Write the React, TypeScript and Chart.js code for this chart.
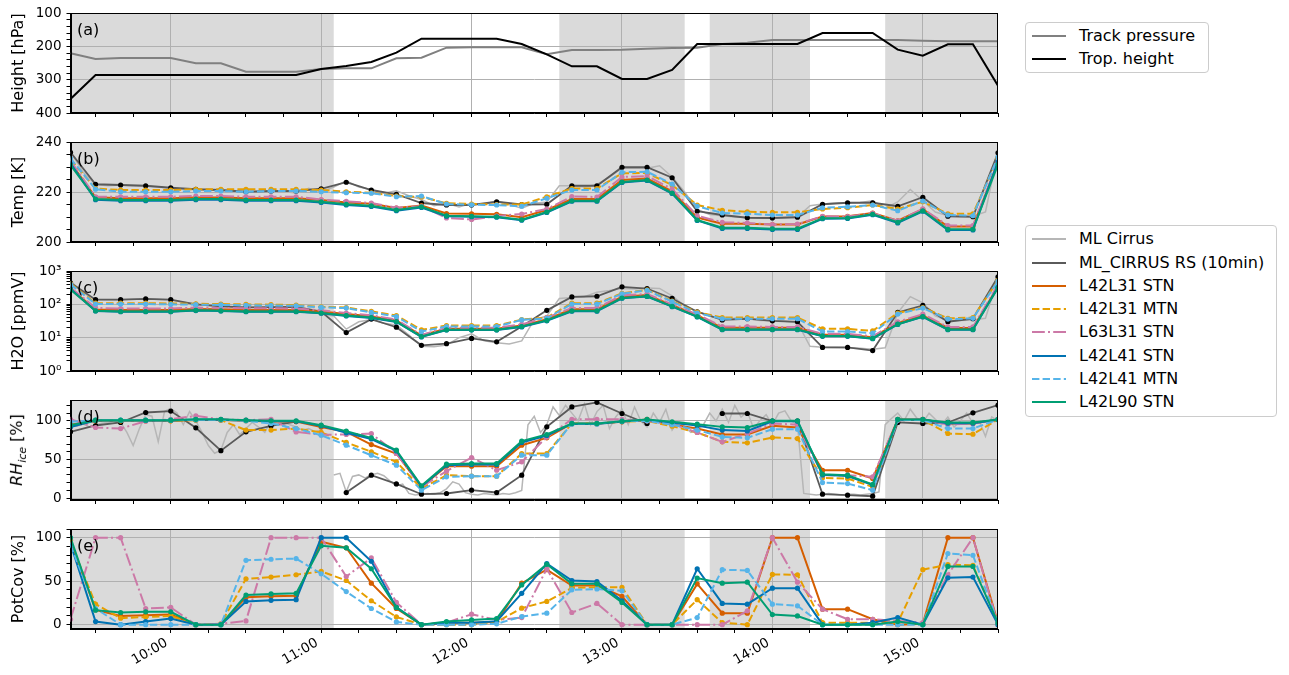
import React, { useEffect, useRef } from 'react';
import { Chart, registerables } from 'chart.js';

Chart.register(...registerables);
Chart.defaults.font.family = "'DejaVu Sans', 'Liberation Sans', sans-serif";
Chart.defaults.color = '#000';

// ---------------- data ----------------
const TIME_LABELS = [
  '09:20', '09:30', '09:40', '09:50', '10:00', '10:10', '10:20', '10:30', '10:40', '10:50',
  '11:00', '11:10', '11:20', '11:30', '11:40', '11:50', '12:00', '12:10', '12:20', '12:30',
  '12:40', '12:50', '13:00', '13:10', '13:20', '13:30', '13:40', '13:50', '14:00', '14:10',
  '14:20', '14:30', '14:40', '14:50', '15:00', '15:10', '15:20', '15:30',
];
const SHADE_START = ['09:20', '12:35', '13:35', '14:45'];
const SHADE_END = ['11:05', '13:25', '14:15', '15:30'];
const ML_STEP_TH_MIN = 5; // ML Cirrus sampling for temperature / H2O panels
const ML_STEP_RHI_MIN = 2.5; // ML Cirrus sampling for RHice panel

const PANEL_A_NAMES = ['Track pressure', 'Trop. height'];
const OBS_NAMES = ['ML Cirrus', 'ML_CIRRUS RS (10min)'];
const MODEL_NAMES = ['L42L31 STN', 'L42L31 MTN', 'L63L31 STN', 'L42L41 STN', 'L42L41 MTN', 'L42L90 STN'];
const PANEL_LETTERS = ['(a)', '(b)', '(c)', '(d)', '(e)'];

// (a) pressure [hPa]
const TRACK_PRESSURE = [221, 238, 235, 235, 235, 251, 251, 276, 276, 276, 268, 266, 266, 236, 234, 204, 203, 203, 203, 224, 211, 211, 210, 207, 205, 204, 193, 189, 181, 181, 181, 181, 181, 181, 183, 185, 185, 185];
const TROP_HEIGHT = [358, 286, 286, 286, 286, 286, 286, 286, 286, 286, 268, 259, 247, 219, 177, 177, 177, 177, 193, 224, 260, 260, 298, 298, 271, 193, 193, 193, 193, 193, 160, 160, 160, 210, 228, 194, 194, 318];

// (b) temperature [K]
const T_ML = [
  236, 228, 223, 222.5, 222.8, 222.5, 222.3, 222, 221.5, 221.2,
  221, 220.8, 220.6, 220.3, 220, 220.2, 220.4, 220.3, 219.5, 221.5,
  220, 222, 224.5, 222, 221, 219.5, 220.5, 218.5, 217, 214.5,
  215.5, 214, 215.5, 215, 216.5, 215, 213.5, 215.5, 216, 222.5,
  222.5, 222, 223, 226, 229.5, 229.5, 229.5, 230.5, 226, 220,
  213, 211, 210.5, 210, 209.8, 209.5, 209.6, 209.8, 210, 214.5,
  215.2, 215.5, 215.6, 215.8, 216.5, 213.5, 216, 221, 216.5, 212,
  210.5, 210.2, 210.3, 212, 236,
];
const T_RS = [235.9, 223.1, 222.8, 222.5, 221.7, 221.1, 220.8, 220.1, 220.4, 220.4, 221.3, 223.9, 220.8, 219.1, 215.6, 214.8, 214.8, 216.1, 215.0, 215.1, 222.5, 222.5, 229.9, 229.9, 225.7, 212.3, 210.8, 209.7, 209.6, 209.9, 215.1, 215.7, 215.7, 214.3, 217.9, 210.3, 210.1, 235.7];
const T_L42L31_STN = [231.8, 217.9, 217.5, 217.5, 217.5, 217.8, 217.8, 217.5, 217.5, 217.5, 216.8, 215.8, 215.3, 213.6, 214.6, 211.4, 211.3, 211.1, 209.9, 212.8, 217.2, 217.2, 224.8, 225.4, 220.3, 209.8, 207.3, 207.3, 207.0, 207.0, 210.2, 210.3, 211.6, 208.5, 213.1, 206.2, 206.2, 231.8];
const T_L42L31_MTN = [233.0, 221.4, 220.8, 220.8, 220.8, 221.1, 221.1, 221.1, 221.1, 221.1, 220.8, 220.1, 219.7, 218.4, 218.0, 215.5, 215.2, 215.0, 215.0, 218.1, 221.4, 221.4, 227.5, 227.6, 222.8, 214.8, 212.7, 212.1, 211.9, 211.9, 213.2, 213.7, 214.8, 213.2, 216.1, 211.3, 211.3, 233.5];
const T_L63L31_STN = [232.5, 218.1, 218.1, 218.1, 218.1, 218.4, 218.4, 218.1, 218.1, 218.1, 217.0, 216.3, 215.6, 213.7, 214.3, 209.6, 209.0, 210.4, 211.2, 213.2, 218.2, 218.0, 226.0, 226.4, 221.2, 210.5, 207.9, 207.6, 207.0, 207.2, 210.3, 210.2, 211.5, 208.5, 213.3, 206.6, 206.6, 232.0];
const T_L42L41_STN = [231.5, 216.9, 216.5, 216.5, 216.5, 216.9, 216.9, 216.5, 216.5, 216.5, 215.8, 214.8, 214.2, 212.5, 213.8, 210.3, 210.1, 209.9, 208.7, 211.8, 216.3, 216.3, 223.8, 224.6, 219.4, 208.6, 205.4, 205.4, 205.0, 205.0, 209.3, 209.4, 210.9, 207.6, 212.3, 204.8, 204.8, 232.3];
const T_L42L41_MTN = [233.5, 221.1, 220.1, 220.1, 220.1, 220.4, 220.4, 220.1, 220.4, 220.4, 220.1, 219.7, 219.5, 218.1, 218.4, 215.2, 214.9, 214.8, 214.3, 217.5, 220.8, 220.8, 227.9, 228.1, 223.2, 214.3, 211.6, 211.3, 210.8, 210.8, 213.7, 214.1, 214.8, 212.5, 216.4, 210.8, 210.5, 234.0];
const T_L42L90_STN = [230.8, 217.2, 216.8, 216.8, 216.8, 217.2, 217.2, 216.8, 216.8, 216.8, 216.1, 215.1, 214.5, 212.8, 214.1, 210.5, 210.3, 210.1, 208.9, 212.0, 216.5, 216.5, 224.0, 224.8, 219.6, 208.8, 205.7, 205.7, 205.3, 205.3, 209.5, 209.6, 211.1, 207.9, 212.5, 205.1, 205.1, 231.0];

// (c) H2O [ppmV]
const H2O_ML = [
  500, 220, 140, 138, 138, 142, 145, 140, 135, 115,
  100, 95, 88, 84, 81, 82, 82, 84, 80, 70,
  50, 45, 18, 30, 35, 27, 24, 12, 5.5, 5.3,
  6, 10, 13, 8, 7, 6.5, 8, 35, 45, 150,
  160, 170, 230, 260, 300, 290, 310, 300, 180, 90,
  60, 45, 36, 38, 37, 33, 32, 31, 28, 5.5,
  5.2, 5.1, 5, 4.8, 4.5, 5, 55, 170, 110, 45,
  32, 33, 34, 38, 620,
];
const H2O_RS = [443, 138, 138, 145, 138, 100, 87, 81, 82, 84, 61, 14.2, 36, 20.6, 5.9, 6.6, 9.5, 7.5, 21.6, 66, 167, 175, 335, 298, 150, 60, 34, 37, 32, 30, 5.1, 5.1, 4.1, 57, 93, 30, 37, 670];
const H2O_L42L31_STN = [300, 70, 68, 68, 68, 73, 71, 68, 68, 68, 61, 51, 44, 33, 11.8, 18.5, 18.5, 18.5, 23, 36, 71, 71, 168, 190, 95, 47, 19.8, 19.8, 19.8, 19.8, 12.3, 12.3, 10.3, 27.5, 46, 19.5, 19.5, 340];
const H2O_L42L31_MTN = [420, 108, 108, 108, 106, 104, 102, 100, 98, 95, 84, 80, 62, 46, 17.2, 23, 23, 23, 35, 40, 108, 108, 215, 270, 125, 58, 40, 40, 40, 40, 18.4, 18.4, 16, 55, 80, 38, 40, 520];
const H2O_L63L31_STN = [320, 78, 75, 75, 75, 80, 78, 76, 76, 75, 66, 55, 47, 35, 12, 20, 20, 20, 25, 40, 78, 78, 185, 205, 100, 50, 21.5, 21.5, 21, 21, 13, 13, 11, 30, 51, 21, 21, 380];
const H2O_L42L41_STN = [290, 63, 60, 60, 60, 65, 63, 60, 60, 60, 54, 45, 39, 29.5, 10.5, 17, 17, 17, 21, 32, 62, 62, 152, 172, 85, 42, 17.3, 17.3, 17.3, 17.3, 11, 11, 9.3, 25, 42, 17.3, 17.3, 330];
const H2O_L42L41_MTN = [400, 102, 102, 102, 100, 98, 96, 94, 92, 90, 81, 77, 57, 43, 15.3, 21.6, 21.6, 21.6, 34, 38, 102, 102, 206, 265, 120, 55, 37, 37, 37, 37, 15.3, 15.3, 13.6, 51, 77, 36, 38, 500];
const H2O_L42L90_STN = [278, 64, 61, 61, 61, 66, 64, 61, 61, 61, 55, 46, 40, 30.5, 10.8, 17.2, 17.2, 17.2, 21.6, 33, 64, 64, 155, 175, 87, 43, 17.7, 17.7, 17.7, 17.7, 11.3, 11.3, 9.5, 25.4, 43, 17.7, 17.7, 313];

// (d) RHice [%]
const RHI_ML = [
  95, 93, 96, 92, 95, 97, 98, 100, 98, 85,
  68, 90, 108, 106, 73, 112, 116, 110, 95, 112,
  100, 85, 68, 58, 62, 85, 95, 82, 90, 98,
  92, 85, 100, 96, 98, 95, 92, 88, 90, 86,
  88, null, 30, 32, 8, 28, 30, 26, 30, 32,
  29, 22, 16, 18, 6, 4, 5, 6, 5, 7,
  12, 21, 18, 7, 5, 4, 6, 5, 4, 6,
  5, 7, 10, 95, 106, 85, 95, 118, 107, 120,
  110, 100, 122, 95, 112, 120, 90, 105, 115, 95,
  118, 100, 92, 110, 98, 115, 88, 100, 92, 85,
  88, 95, 110, 100, 115, 98, 120, 105, 112, 90,
  100, 108, 95, 110, 113, 100, 95, 6, 5, 4,
  5, 6, 5, 4, 5, 5, 4, 5, 6, 8,
  95, 103, 110, 100, 115, 104, 98, 110, 102, 95,
  105, 92, 100, 110, 97, 100, 80, 105, 100,
];
const RHI_RS = [85.8, 94, 97.9, 110.8, 112.6, 91, 61.4, 85.8, 93.6, 99, null, 7.1, 29.6, 18.3, 5.0, 5.9, 10.2, 7.2, 29.6, 92.2, 118, 124, 109.5, 96.6, null, null, 109.5, 109.5, 99.6, 99.6, 5.0, 3.8, 2.4, 97.9, 96.6, 97.9, 110.4, 120.3];
const RHI_L42L31_STN = [95, 100, 100, 100, 100, 101, 101, 100, 99, 99, 92, 85.7, 69.3, 57.7, 14.5, 41.2, 41.2, 41.2, 68.5, 78, 96.6, 96.6, 98.7, 101.8, 95, 90, 82.3, 82.3, 93.6, 91.4, 36, 36, 25.3, 101.8, 101.8, 96.6, 96.6, 101.8];
const RHI_L42L31_MTN = [93, 100, 100, 100, 100, 101, 101, 88, 88, 90, 85, 72, 60, 46.9, 12.4, 29.6, 28.4, 28.4, 57.7, 57.7, 96.6, 96.6, 99, 100, 93, 85, 72.8, 71.5, 78.4, 77.1, 26.2, 25.3, 14.5, 101, 101, 83.6, 82.7, 101.8];
const RHI_L63L31_STN = [102, 91.4, 90, 99.6, 102, 106.5, 102, 100.9, 102, 85.7, 82, 82.3, 83.6, 57.7, 14.5, 34.8, 52.5, 36, 46.9, 79, 102, 102, 102, 100, 96, 85, 72.8, 83.6, 96.6, 95, 29.6, 29.6, 27.5, 100.9, 101.8, 95.3, 96.6, 101.8];
const RHI_L42L41_STN = [92, 100.5, 100.5, 100.5, 100.5, 101.5, 101.5, 100.5, 99.5, 99.5, 93.5, 84.5, 76.5, 61, 15, 42.5, 43.5, 43.5, 72, 81, 96, 96, 99, 101, 97.5, 94, 88, 87, 99.5, 99.5, 30, 28.5, 17, 101.5, 101.5, 97, 97, 101.5];
const RHI_L42L41_MTN = [98.7, 100.9, 100.9, 100.9, 100.9, 101.5, 101.5, 100, 96.6, 90, 81.4, 68.5, 55.5, 42.6, 10.2, 27.5, 28.4, 28.4, 55.5, 55.5, 96.6, 96.6, 99.6, 100, 95, 88, 79.2, 78, 89.2, 89.2, 20.1, 18.8, 10.2, 101, 101, 90, 90, 101.8];
const RHI_L42L90_STN = [94.4, 100.9, 100.9, 100.9, 100.9, 102, 102, 100.9, 100, 100, 94.4, 86.7, 78, 62, 15.8, 43.9, 44.7, 44.7, 73.7, 82.3, 96.6, 96.6, 99.6, 101.8, 98.7, 95.7, 92.2, 91.4, 100, 100, 30.9, 29.6, 17.6, 101.8, 101.8, 97.9, 97.9, 101.8];

// (e) potential coverage [%]
const PC_L42L31_STN = [97, 17, 10, 10.9, 11.6, 0, 0, 31.4, 32.6, 33.3, 95.3, 88.4, 47.7, 18.6, 0, 2.3, 2.3, 3.1, 47.7, 63.2, 45, 45, 32.6, 0, 0, 46.9, 13.2, 13.2, 100, 100, 17.8, 17.8, 6.2, 0, 1, 100, 100, 2];
const PC_L42L31_MTN = [95, 23.6, 7.4, 8.9, 10, 0, 1, 52.7, 54.7, 57.4, 61.2, 50.8, 27.5, 8.9, 0, 0, 0, 3.1, 19, 26.7, 42.2, 43, 43, 0, 0, 28.7, 2.3, 0, 57.8, 57.4, 2.3, 2.3, 2.3, 2.3, 63.2, 69, 68.2, 2.3];
const PC_L63L31_STN = [6.2, 100, 100, 18.6, 19.8, 0, 1, 4.3, 100, 100, 100, 55.4, 76.7, 25.6, 0, 2.3, 12, 5.4, 8.1, 64.3, 14, 24.4, 0, 0, 0, 0, 0, 15.9, 100, 48.8, 17.8, 6.2, 6.2, 4.3, 2.3, 57.4, 100, 0];
const PC_L42L41_STN = [93, 3.5, 0, 3.5, 7, 0, 0, 26.7, 28, 28.7, 100, 100, 72.9, 19.8, 0, 2.3, 2.3, 3.9, 36, 70.2, 50.8, 49.6, 27.5, 0, 0, 64.3, 24.4, 23.6, 41.9, 41.9, 0, 0, 2.3, 8.1, 0, 53.9, 54.7, 0];
const PC_L42L41_MTN = [91.5, 18.6, 0, 0, 0, 0, 0, 74, 75.2, 76, 58.5, 38, 18.6, 3.1, 0, 0, 0, 1, 9.3, 13.2, 40, 41, 39, 0, 0, 8.1, 63.2, 62.4, 23.6, 21.7, 0, 0, 0, 0, 0, 81.8, 79.8, 2];
const PC_L42L90_STN = [100, 16.7, 14, 14.7, 14.7, 0, 0, 34, 35.3, 36, 90.7, 88.4, 64.3, 19.8, 0, 3.5, 5.4, 7, 45.7, 69.4, 46.9, 46.9, 25.6, 0, 0, 53.5, 47.7, 48.8, 11.6, 10, 0, 0, 0, 3.5, 0, 67, 67, 2];

// ---------------- styles / layout ----------------
const MODEL_STYLE = [
  { color: '#D55E00', dash: [] as number[] },
  { color: '#E69F00', dash: [7.4, 3.2] },
  { color: '#CC79A7', dash: [12.8, 3.2, 2, 3.2] },
  { color: '#0072B2', dash: [] as number[] },
  { color: '#56B4E9', dash: [7.4, 3.2] },
  { color: '#009E73', dash: [] as number[] },
];
const ML_COLOR = '#b6b6b6';
const RS_LINE = '#5a5a5a';
const TRACK_COLOR = '#808080';
const GRID = '#b0b0b0';
const SHADE = '#dadada';

const CANVAS_W = 1010;
const AXIS_LEFT = 70.5;
const PLOT_RIGHT = 998;
const PAD_TOP = 16;
const PANEL_H = 100;
const PANEL_TOPS = [13, 142, 271, 400, 529];
const TICK_FONT = 13.5;

const toMin = (s: string) => {
  const [h, m] = s.split(':').map(Number);
  return h * 60 + m;
};
const TIMES = TIME_LABELS.map(toMin);
const X_MIN = TIMES[0];
const X_MAX = TIMES[TIMES.length - 1];
const X_TICK_VALUES: number[] = [];
for (let t = Math.ceil(X_MIN / 15) * 15; t <= X_MAX; t += 15) X_TICK_VALUES.push(t);
const fmtTime = (v: number) =>
  `${String(Math.floor(v / 60)).padStart(2, '0')}:${String(v % 60).padStart(2, '0')}`;

const pts = (vals: (number | null)[]) => vals.map((v, i) => ({ x: TIMES[i], y: v }));
const mlPts = (vals: (number | null)[], step: number) => vals.map((v, i) => ({ x: X_MIN + i * step, y: v }));

const base = { tension: 0, spanGaps: false, clip: 0, fill: false, pointHoverRadius: 0, pointBorderWidth: 0 };

function modelSets(models: number[][]) {
  return models.map((m, i) => ({
    ...base,
    label: MODEL_NAMES[i],
    data: pts(m),
    borderColor: MODEL_STYLE[i].color,
    borderDash: MODEL_STYLE[i].dash,
    borderWidth: 2,
    pointRadius: 2.6,
    pointBackgroundColor: MODEL_STYLE[i].color,
    order: 10 - i,
  }));
}
function obsModelSets(ml: (number | null)[], mlStep: number, rs: (number | null)[], models: number[][]) {
  return [
    { ...base, label: OBS_NAMES[0], data: mlPts(ml, mlStep), borderColor: ML_COLOR, borderWidth: 1.5, pointRadius: 0, order: 20 },
    { ...base, label: OBS_NAMES[1], data: pts(rs), borderColor: RS_LINE, borderWidth: 1.8, pointRadius: 2.6, pointBackgroundColor: '#000', order: 19 },
    ...modelSets(models),
  ];
}

const range = (a: number, b: number, s: number) => {
  const out: number[] = [];
  for (let v = a; v <= b + 1e-9; v += s) out.push(Math.round(v * 100) / 100);
  return out;
};
const SUP: Record<string, string> = { '0': '⁰', '1': '¹', '2': '²', '3': '³' };
const LOG_MAJOR = [1, 10, 100, 1000];
const LOG_MINOR: number[] = [];
[1, 10, 100].forEach((d) => { for (let k = 2; k <= 9; k++) LOG_MINOR.push(k * d); });

type PanelSpec = {
  idx: number;
  title: string | null;
  yType: 'linear' | 'logarithmic';
  yMin: number;
  yMax: number;
  reverse?: boolean;
  major: number[];
  minor: number[];
  fmt: (v: number) => string;
  datasets: any[];
  last: boolean;
};

const PANELS: PanelSpec[] = [
  {
    idx: 0, title: 'Height [hPa]', yType: 'linear', yMin: 100, yMax: 400, reverse: true,
    major: range(100, 400, 100), minor: range(100, 400, 20), fmt: (v) => String(v),
    datasets: [
      { ...base, label: PANEL_A_NAMES[0], data: pts(TRACK_PRESSURE), borderColor: TRACK_COLOR, borderWidth: 2, pointRadius: 0, order: 2 },
      { ...base, label: PANEL_A_NAMES[1], data: pts(TROP_HEIGHT), borderColor: '#000', borderWidth: 2, pointRadius: 0, order: 1 },
    ],
    last: false,
  },
  {
    idx: 1, title: 'Temp [K]', yType: 'linear', yMin: 200, yMax: 240,
    major: range(200, 240, 20), minor: range(200, 240, 5), fmt: (v) => String(v),
    datasets: obsModelSets(T_ML, ML_STEP_TH_MIN, T_RS, [T_L42L31_STN, T_L42L31_MTN, T_L63L31_STN, T_L42L41_STN, T_L42L41_MTN, T_L42L90_STN]),
    last: false,
  },
  {
    idx: 2, title: 'H2O [ppmV]', yType: 'logarithmic', yMin: 1, yMax: 1000,
    major: LOG_MAJOR, minor: LOG_MINOR, fmt: (v) => '10' + SUP[String(Math.round(Math.log10(v)))],
    datasets: obsModelSets(H2O_ML, ML_STEP_TH_MIN, H2O_RS, [H2O_L42L31_STN, H2O_L42L31_MTN, H2O_L63L31_STN, H2O_L42L41_STN, H2O_L42L41_MTN, H2O_L42L90_STN]),
    last: false,
  },
  {
    idx: 3, title: null, yType: 'linear', yMin: -2.5, yMax: 127,
    major: [0, 50, 100], minor: range(0, 120, 10), fmt: (v) => String(v),
    datasets: obsModelSets(RHI_ML, ML_STEP_RHI_MIN, RHI_RS, [RHI_L42L31_STN, RHI_L42L31_MTN, RHI_L63L31_STN, RHI_L42L41_STN, RHI_L42L41_MTN, RHI_L42L90_STN]),
    last: false,
  },
  {
    idx: 4, title: 'PotCov [%]', yType: 'linear', yMin: -5, yMax: 110,
    major: [0, 50, 100], minor: range(0, 110, 10), fmt: (v) => String(v),
    datasets: modelSets([PC_L42L31_STN, PC_L42L31_MTN, PC_L63L31_STN, PC_L42L41_STN, PC_L42L41_MTN, PC_L42L90_STN]),
    last: true,
  },
];

function makeDeco(label: string) {
  return {
    id: 'deco',
    beforeDraw(chart: any) {
      const { ctx, chartArea, scales } = chart;
      ctx.save();
      ctx.fillStyle = SHADE;
      SHADE_START.forEach((s, i) => {
        const x0 = scales.x.getPixelForValue(toMin(s));
        const x1 = scales.x.getPixelForValue(toMin(SHADE_END[i]));
        ctx.fillRect(x0, chartArea.top, x1 - x0, chartArea.bottom - chartArea.top);
      });
      ctx.restore();
    },
    afterDraw(chart: any) {
      const { ctx, chartArea } = chart;
      ctx.save();
      const l = Math.round(chartArea.left) + 0.5;
      const t = Math.round(chartArea.top) + 0.5;
      const r = Math.round(chartArea.right) - 0.5;
      const b = Math.round(chartArea.bottom) - 0.5;
      ctx.strokeStyle = '#000';
      ctx.lineWidth = 1;
      ctx.strokeRect(l, t, r - l, b - t);
      ctx.fillStyle = '#000';
      ctx.font = "16px 'DejaVu Sans', sans-serif";
      ctx.textBaseline = 'alphabetic';
      ctx.textAlign = 'left';
      ctx.fillText(label, chartArea.left + 6.5, chartArea.top + 21.5);
      ctx.restore();
    },
  };
}

function PanelChart({ spec }: { spec: PanelSpec }) {
  const ref = useRef<HTMLCanvasElement>(null);
  const xAxisH = spec.last ? 675 - (PANEL_TOPS[spec.idx] + PANEL_H) : 16;
  const canvasTop = PANEL_TOPS[spec.idx] - PAD_TOP;
  const canvasH = PAD_TOP + PANEL_H + xAxisH;
  useEffect(() => {
    const el = ref.current as HTMLCanvasElement;
    const allY = [...new Set([...spec.major, ...spec.minor])].sort((a, b) => a - b);
    const chart = new Chart(el, {
      type: 'line',
      data: { datasets: spec.datasets },
      plugins: [makeDeco(PANEL_LETTERS[spec.idx])],
      options: {
        animation: false,
        responsive: false,
        maintainAspectRatio: false,
        events: [],
        layout: { autoPadding: false, padding: { top: PAD_TOP, right: CANVAS_W - PLOT_RIGHT, left: 0, bottom: 0 } },
        plugins: { legend: { display: false }, tooltip: { enabled: false } },
        scales: {
          x: {
            type: 'linear',
            min: X_MIN,
            max: X_MAX,
            afterBuildTicks: (s: any) => { s.ticks = X_TICK_VALUES.map((v) => ({ value: v })); },
            afterFit: (s: any) => { s.height = xAxisH; },
            ticks: {
              display: spec.last,
              autoSkip: false,
              minRotation: 30,
              maxRotation: 30,
              padding: 2,
              labelOffset: -4,
              font: { size: TICK_FONT },
              color: '#000',
              callback: (v: any) => (Number(v) % 60 === 0 ? fmtTime(Number(v)) : ''),
            },
            grid: {
              color: (c: any) => (c.tick && c.tick.value % 60 === 0 ? GRID : 'rgba(0,0,0,0)'),
              tickColor: '#000',
              tickLength: 4,
              lineWidth: 1,
            },
            border: { display: true, color: '#000', width: 1 },
          },
          y: {
            type: spec.yType,
            min: spec.yMin,
            max: spec.yMax,
            reverse: !!spec.reverse,
            afterBuildTicks: (s: any) => { s.ticks = allY.map((v) => ({ value: v })); },
            afterFit: (s: any) => { s.width = AXIS_LEFT; },
            ticks: {
              autoSkip: false,
              padding: 5,
              font: { size: TICK_FONT },
              color: '#000',
              callback: (v: any) => (spec.major.includes(Number(v)) ? spec.fmt(Number(v)) : ''),
            },
            grid: {
              color: (c: any) => (c.tick && spec.major.includes(c.tick.value) ? GRID : 'rgba(0,0,0,0)'),
              tickColor: '#000',
              tickLength: 4,
              lineWidth: 1,
            },
            border: { display: true, color: '#000', width: 1 },
            title: {
              display: !!spec.title,
              text: spec.title || '',
              color: '#000',
              font: { size: 16 },
              padding: { top: 9, bottom: 0 },
            },
          },
        },
      } as any,
    } as any);
    // keep the plot area exactly where the reference has it
    const ca = chart.chartArea;
    const dh = PANEL_H - (ca.bottom - ca.top);
    const dw = (PLOT_RIGHT - AXIS_LEFT) - (ca.right - ca.left);
    if (Math.abs(dh) > 0.5 || Math.abs(dw) > 0.5) {
      chart.resize(CANVAS_W + dw, canvasH + dh);
    }
    const ca2 = chart.chartArea;
    el.style.top = `${PANEL_TOPS[spec.idx] - ca2.top}px`;
    el.style.left = `${AXIS_LEFT - ca2.left}px`;
    return () => chart.destroy();
  }, []);
  return (
    <canvas
      ref={ref}
      width={CANVAS_W}
      height={canvasH}
      style={{ position: 'absolute', left: 0, top: canvasTop }}
    />
  );
}

type LegendItem = { label: string; color: string; dash: number[]; width: number };

function LegendBox({ left, top, width, height, rowTop, rowStep, items }: {
  left: number; top: number; width: number; height: number; rowTop: number; rowStep: number; items: LegendItem[];
}) {
  return (
    <div
      style={{
        position: 'absolute', left, top, width, height, boxSizing: 'border-box',
        border: '1px solid #cccccc', borderRadius: 4, background: 'rgba(255,255,255,0.8)',
      }}
    >
      {items.map((it, i) => {
        const cy = rowTop + i * rowStep - top;
        return (
          <React.Fragment key={it.label}>
            <svg
              width={34}
              height={10}
              style={{ position: 'absolute', left: 1031 - left, top: cy - 5 }}
            >
              <line
                x1={0} y1={5} x2={34} y2={5}
                stroke={it.color}
                strokeWidth={it.width}
                strokeDasharray={it.dash.length ? it.dash.join(' ') : undefined}
              />
            </svg>
            <div
              style={{
                position: 'absolute', left: 1078 - left, top: cy - 10, height: 20, lineHeight: '20px',
                fontSize: 16, whiteSpace: 'nowrap', color: '#000',
              }}
            >
              {it.label}
            </div>
          </React.Fragment>
        );
      })}
    </div>
  );
}

export default function App() {
  const legendA: LegendItem[] = [
    { label: PANEL_A_NAMES[0], color: TRACK_COLOR, dash: [], width: 2 },
    { label: PANEL_A_NAMES[1], color: '#000', dash: [], width: 2 },
  ];
  const legendB: LegendItem[] = [
    { label: OBS_NAMES[0], color: ML_COLOR, dash: [], width: 1.8 },
    { label: OBS_NAMES[1], color: RS_LINE, dash: [], width: 1.8 },
    ...MODEL_NAMES.map((n, i) => ({ label: n, color: MODEL_STYLE[i].color, dash: MODEL_STYLE[i].dash, width: 2 })),
  ];
  return (
    <div
      style={{
        position: 'fixed', left: 0, top: 0, width: 1289, height: 675, background: '#fff', overflow: 'hidden',
        fontFamily: "'DejaVu Sans', 'Liberation Sans', sans-serif",
      }}
    >
      {PANELS.map((p) => (
        <PanelChart key={p.idx} spec={p} />
      ))}
      <div
        style={{
          position: 'absolute', left: 18, top: 450, transform: 'translate(-50%, -50%) rotate(-90deg)',
          whiteSpace: 'nowrap', fontSize: 16, color: '#000',
        }}
      >
        <i>RH</i>
        <sub style={{ fontSize: 11, fontStyle: 'italic', verticalAlign: 'sub' }}>ice</sub> [%]
      </div>
      <LegendBox left={1025} top={22} width={184} height={51} rowTop={35} rowStep={23.3} items={legendA} />
      <LegendBox left={1025} top={225} width={252} height={192} rowTop={238.3} rowStep={23.25} items={legendB} />
    </div>
  );
}
